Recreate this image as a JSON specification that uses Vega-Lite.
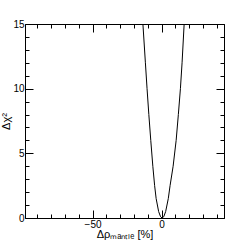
{
  "$schema": "https://vega.github.io/schema/vega-lite/v6.json",
  "width": 199,
  "height": 194,
  "autosize": {"type": "none"},
  "padding": {"left": 25, "top": 24, "right": 25, "bottom": 25},
  "background": "white",
  "config": {
    "view": {"stroke": null},
    "font": "Liberation Sans",
    "axis": {"grid": false, "domainColor": "#000", "tickColor": "#000", "labelColor": "#000", "titleColor": "#000", "labelFont": "Liberation Sans", "titleFont": "Liberation Sans", "labelFontSize": 10, "titleFontWeight": "normal", "domainWidth": 1, "tickWidth": 1}
  },
  "data": {"values": [
    {"x": -14.0, "y": 16},
    {"x": -13.5, "y": 15},
    {"x": -11.7, "y": 12},
    {"x": -10.5, "y": 10},
    {"x": -9.2, "y": 8},
    {"x": -7.8, "y": 6},
    {"x": -6.3, "y": 4},
    {"x": -5.0, "y": 2.5},
    {"x": -3.9, "y": 1.5},
    {"x": -2.1, "y": 0.5},
    {"x": -0.7, "y": 0.1},
    {"x": 0.4, "y": 0},
    {"x": 1.6, "y": 0.1},
    {"x": 3.0, "y": 0.5},
    {"x": 4.9, "y": 1.5},
    {"x": 6.2, "y": 2.5},
    {"x": 8.4, "y": 4},
    {"x": 10.6, "y": 6},
    {"x": 12.2, "y": 8},
    {"x": 13.7, "y": 10},
    {"x": 14.9, "y": 12},
    {"x": 16.4, "y": 15},
    {"x": 16.9, "y": 16}
  ]},
  "resolve": {"axis": {"x": "independent", "y": "independent"}},
  "layer": [
    {
      "mark": {"type": "line", "color": "#000", "strokeWidth": 1, "clip": true},
      "encoding": {
        "x": {"field": "x", "type": "quantitative", "sort": null,
          "scale": {"domain": [-99, 45.3], "nice": false, "zero": false},
          "axis": {"orient": "bottom", "values": [-50, 0], "tickSize": -8, "labelPadding": 9, "title": "Δρₘₐₙₜₗₑ [%]", "titleFontSize": 11, "titlePadding": -1}},
        "y": {"field": "y", "type": "quantitative",
          "scale": {"domain": [0, 15], "nice": false},
          "axis": {"orient": "left", "values": [0, 5, 10, 15], "tickSize": -8, "labelPadding": 9, "title": "Δχ²", "titleFontSize": 11, "titlePadding": 1}},
        "order": {"field": "x"}
      }
    },
    {
      "mark": {"type": "line", "opacity": 0},
      "encoding": {
        "x": {"field": "x", "type": "quantitative", "axis": {"orient": "bottom", "values": [-90, -80, -70, -60, -50, -40, -30, -20, -10, 0, 10, 20, 30, 40], "tickSize": -4, "labels": false, "title": null, "domain": false}},
        "y": {"field": "y", "type": "quantitative", "axis": {"orient": "left", "values": [0,1,2,3,4,5,6,7,8,9,10,11,12,13,14,15], "tickSize": -4, "labels": false, "title": null, "domain": false}}
      }
    },
    {
      "mark": {"type": "line", "opacity": 0},
      "encoding": {
        "x": {"field": "x", "type": "quantitative", "axis": {"orient": "top", "values": [-50, 0], "tickSize": -8, "labels": false, "title": null}},
        "y": {"field": "y", "type": "quantitative", "axis": {"orient": "right", "values": [0, 5, 10, 15], "tickSize": -8, "labels": false, "title": null}}
      }
    },
    {
      "mark": {"type": "line", "opacity": 0},
      "encoding": {
        "x": {"field": "x", "type": "quantitative", "axis": {"orient": "top", "values": [-90, -80, -70, -60, -50, -40, -30, -20, -10, 0, 10, 20, 30, 40], "tickSize": -4, "labels": false, "title": null, "domain": false}},
        "y": {"field": "y", "type": "quantitative", "axis": {"orient": "right", "values": [0,1,2,3,4,5,6,7,8,9,10,11,12,13,14,15], "tickSize": -4, "labels": false, "title": null, "domain": false}}
      }
    }
  ]
}
